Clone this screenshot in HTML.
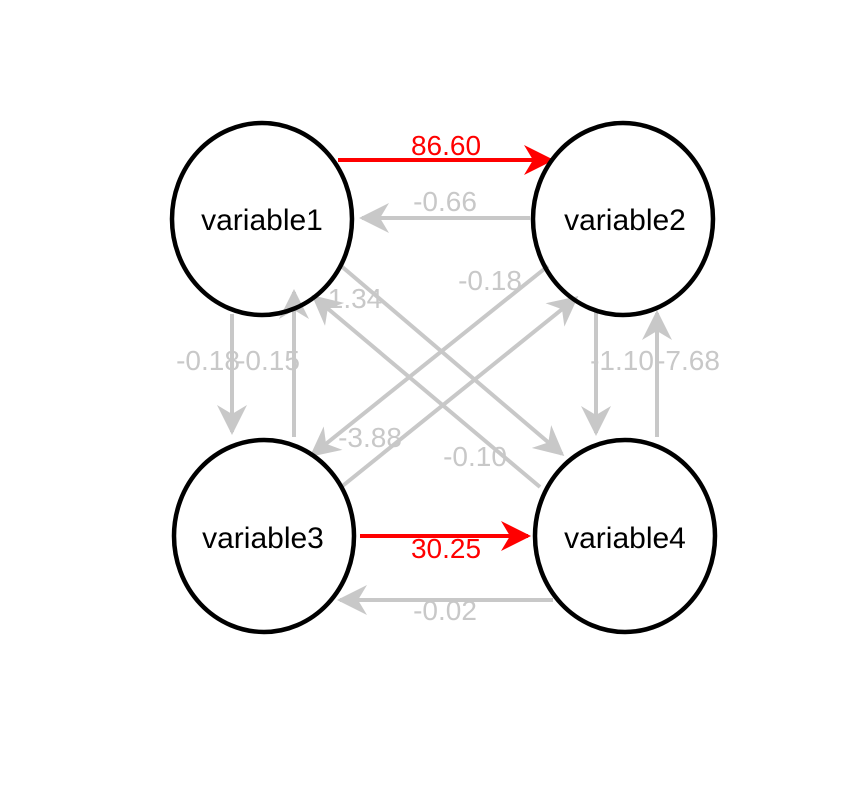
<!DOCTYPE html>
<html><head><style>body{margin:0;background:#fff}</style></head><body>
<svg width="859" height="781" viewBox="0 0 859 781" xmlns="http://www.w3.org/2000/svg" font-family="Liberation Sans, Arial, sans-serif">
<defs>
<marker id="g" viewBox="0 0 10 10" refX="9" refY="5" markerWidth="7.5" markerHeight="7.5" markerUnits="strokeWidth" orient="auto"><path d="M0,0 L10,5 L0,10 L3,5 Z" fill="#c8c8c8"/></marker>
<marker id="r" viewBox="0 0 10 10" refX="9" refY="5" markerWidth="7.5" markerHeight="7.5" markerUnits="strokeWidth" orient="auto"><path d="M0,0 L10,5 L0,10 L3,5 Z" fill="#ff0000"/></marker>
</defs>
<g stroke="#c8c8c8" stroke-width="4" fill="none" marker-end="url(#g)">
<line x1="530" y1="218" x2="362" y2="218"/>
<line x1="548" y1="266" x2="312" y2="455"/>
<line x1="540" y1="487" x2="314" y2="297"/>
<line x1="340" y1="265" x2="562" y2="454"/>
<line x1="340" y1="488" x2="576" y2="298"/>
<line x1="232" y1="314" x2="232" y2="432"/>
<line x1="294" y1="437" x2="294" y2="292"/>
<line x1="596" y1="312" x2="596" y2="433"/>
<line x1="657" y1="437" x2="657" y2="313"/>
<line x1="553" y1="600" x2="340" y2="600"/>
</g>
<g stroke="#ff0000" stroke-width="4" fill="none" marker-end="url(#r)">
<line x1="338" y1="160" x2="551" y2="160"/>
<line x1="360" y1="536" x2="528" y2="536"/>
</g>
<g font-size="28" text-anchor="middle" fill="#c8c8c8">
<text x="445" y="211">-0.66</text>
<text x="490" y="290">-0.18</text>
<text x="355" y="308">1.34</text>
<text x="475" y="466">-0.10</text>
<text x="370" y="447">-3.88</text>
<text x="208" y="370">-0.18</text>
<text x="268" y="370">-0.15</text>
<text x="622" y="370">-1.10</text>
<text x="688" y="370">-7.68</text>
<text x="445" y="620">-0.02</text>
</g>
<g font-size="28" text-anchor="middle" fill="#ff0000">
<text x="446" y="155">86.60</text>
<text x="446" y="558">30.25</text>
</g>
<g stroke="#000" stroke-width="4.5" fill="none">
<ellipse cx="262" cy="219" rx="90" ry="96"/>
<ellipse cx="623" cy="219" rx="90" ry="96"/>
<ellipse cx="264" cy="536" rx="90" ry="96"/>
<ellipse cx="625" cy="536" rx="90" ry="96"/>
</g>
<g font-size="30" text-anchor="middle" fill="#000">
<text x="262" y="230">variable1</text>
<text x="625" y="230">variable2</text>
<text x="263" y="548">variable3</text>
<text x="625" y="548">variable4</text>
</g>
</svg>
</body></html>
